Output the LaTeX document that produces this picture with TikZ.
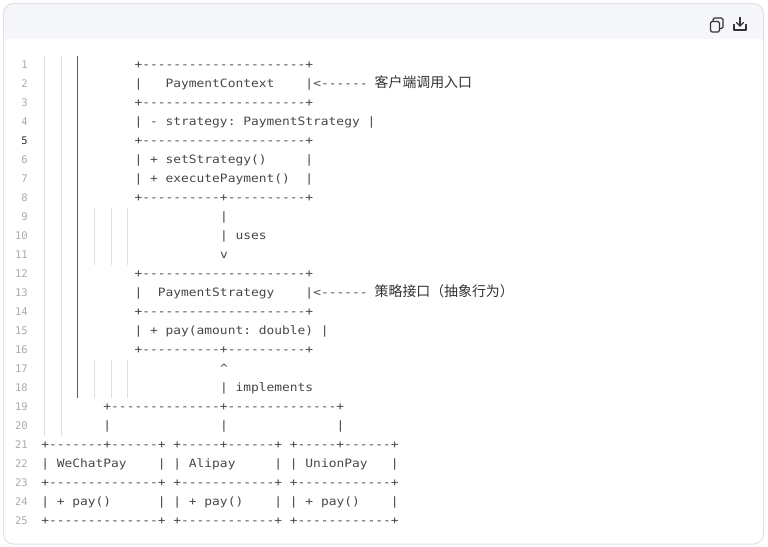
\documentclass[tikz,border=0pt]{standalone}
\usepackage{fontspec}
\setmonofont[FakeStretch=1.122]{DejaVu Sans Mono}
\newfontfamily\cjk{Noto Sans CJK SC}
\newfontfamily\numfont{DejaVu Sans Mono}
\definecolor{codegray}{HTML}{474747}
\definecolor{numgray}{HTML}{ABABAB}
\definecolor{numdark}{HTML}{333333}
\definecolor{guidelight}{HTML}{DEDEDE}
\definecolor{guidedark}{HTML}{5A5A5A}
\definecolor{headbg}{HTML}{F6F7FA}
\definecolor{framec}{HTML}{DFE1E7}
\definecolor{iconc}{HTML}{333333}
\newcommand\codeseg[4]{\node[code] (#1) at ({41.1+7.77*#3},{68.5+19*(#2-1)}) {#4};}
\newcommand\lineno[3]{\node[lnum,text=#3] (n#1) at (28,{68.5+19*(#1-1)}) {#2};}
\begin{document}
\begin{tikzpicture}[x=1pt,y=-1pt,
  code/.style={anchor=base west,inner sep=0pt,text=codegray,font=\ttfamily\fontsize{11.5}{14}\selectfont},
  cn/.style={anchor=base west,inner sep=0pt,text=numdark,font=\cjk\fontsize{13.9}{16}\selectfont},
  lnum/.style={anchor=base east,inner sep=0pt,font=\numfont\fontsize{10.5}{12}\selectfont},
  guide/.style={draw=guidelight,line width=0.9pt},
  guidestrong/.style={draw=guidedark,line width=0.9pt},
  icon/.style={draw=iconc,line width=1.2pt,line cap=round,line join=round}]
\useasboundingbox (0,0) rectangle (768,546);
\fill[white] (0,0) rectangle (768,546);
% frame and header
\begin{scope}
  \clip[rounded corners=10pt] (3.5,3.5) rectangle (763.5,544);
  \fill[headbg] (0,0) rectangle (768,39);
\end{scope}
\draw[framec,line width=1pt,rounded corners=10pt] (3.5,3.5) rectangle (763.5,544);
% icons
\draw[icon,rounded corners=1.5pt] (710.5,21.5) rectangle (719.5,32);
\draw[icon,rounded corners=1.5pt] (713,20.5) -- (713,18) -- (723,18) -- (723,28.5) -- (720.5,28.5);
\draw[icon] (740,17.5) -- (740,26);
\draw[icon] (736.5,22.5) -- (740,26) -- (743.5,22.5);
\draw[icon] (734,24.5) -- (734,30) -- (746,30) -- (746,24.5);
% indent guides
\draw[guide] (44.5,55.5) -- (44.5,435.5);
\draw[guide] (61.5,55.5) -- (61.5,435.5);
\draw[guidestrong] (77.5,55.5) -- (77.5,397.5);
\foreach \gx in {94.5,111,127.5}{
  \draw[guide] (\gx,207.5) -- (\gx,264.5);
  \draw[guide] (\gx,359.5) -- (\gx,397.5);
}
% line numbers
\foreach \k in {1,2,3,4,6,7,8,9,10,11,12,13,14,15,16,17,18,19,20,21,22,23,24,25}{
  \lineno{\k}{\k}{numgray}
}
\lineno{5}{5}{numdark}
% code
\codeseg{l1}{1}{12}{+---------------------+}
\codeseg{l2a}{2}{12}{|}
\codeseg{l2b}{2}{16}{PaymentContext}
\codeseg{l2c}{2}{34}{|<------}
\node[cn] (c2) at (374.5,87.5) {客户端调用入口};
\codeseg{l3}{3}{12}{+---------------------+}
\codeseg{l4}{4}{12}{| - strategy: PaymentStrategy |}
\codeseg{l5}{5}{12}{+---------------------+}
\codeseg{l6a}{6}{12}{| + setStrategy()}
\codeseg{l6b}{6}{34}{|}
\codeseg{l7a}{7}{12}{| + executePayment()}
\codeseg{l7b}{7}{34}{|}
\codeseg{l8}{8}{12}{+----------+----------+}
\codeseg{l9}{9}{23}{|}
\codeseg{l10}{10}{23}{| uses}
\codeseg{l11}{11}{23}{v}
\codeseg{l12}{12}{12}{+---------------------+}
\codeseg{l13a}{13}{12}{|}
\codeseg{l13b}{13}{15}{PaymentStrategy}
\codeseg{l13c}{13}{34}{|<------}
\node[cn] (c13) at (374.5,296.5) {策略接口（抽象行为）};
\codeseg{l14}{14}{12}{+---------------------+}
\codeseg{l15}{15}{12}{| + pay(amount: double) |}
\codeseg{l16}{16}{12}{+----------+----------+}
\codeseg{l17}{17}{23}{\textasciicircum}
\codeseg{l18}{18}{23}{| implements}
\codeseg{l19}{19}{8}{+--------------+--------------+}
\codeseg{l20a}{20}{8}{|}
\codeseg{l20b}{20}{23}{|}
\codeseg{l20c}{20}{38}{|}
\codeseg{l21}{21}{0}{+-------+------+ +-----+------+ +-----+------+}
\codeseg{l22a}{22}{0}{| WeChatPay}
\codeseg{l22b}{22}{15}{| | Alipay}
\codeseg{l22c}{22}{30}{| | UnionPay}
\codeseg{l22d}{22}{45}{|}
\codeseg{l23}{23}{0}{+--------------+ +------------+ +------------+}
\codeseg{l24a}{24}{0}{| + pay()}
\codeseg{l24b}{24}{15}{| | + pay()}
\codeseg{l24c}{24}{30}{| | + pay()}
\codeseg{l24d}{24}{45}{|}
\codeseg{l25}{25}{0}{+--------------+ +------------+ +------------+}
\end{tikzpicture}
\end{document}
